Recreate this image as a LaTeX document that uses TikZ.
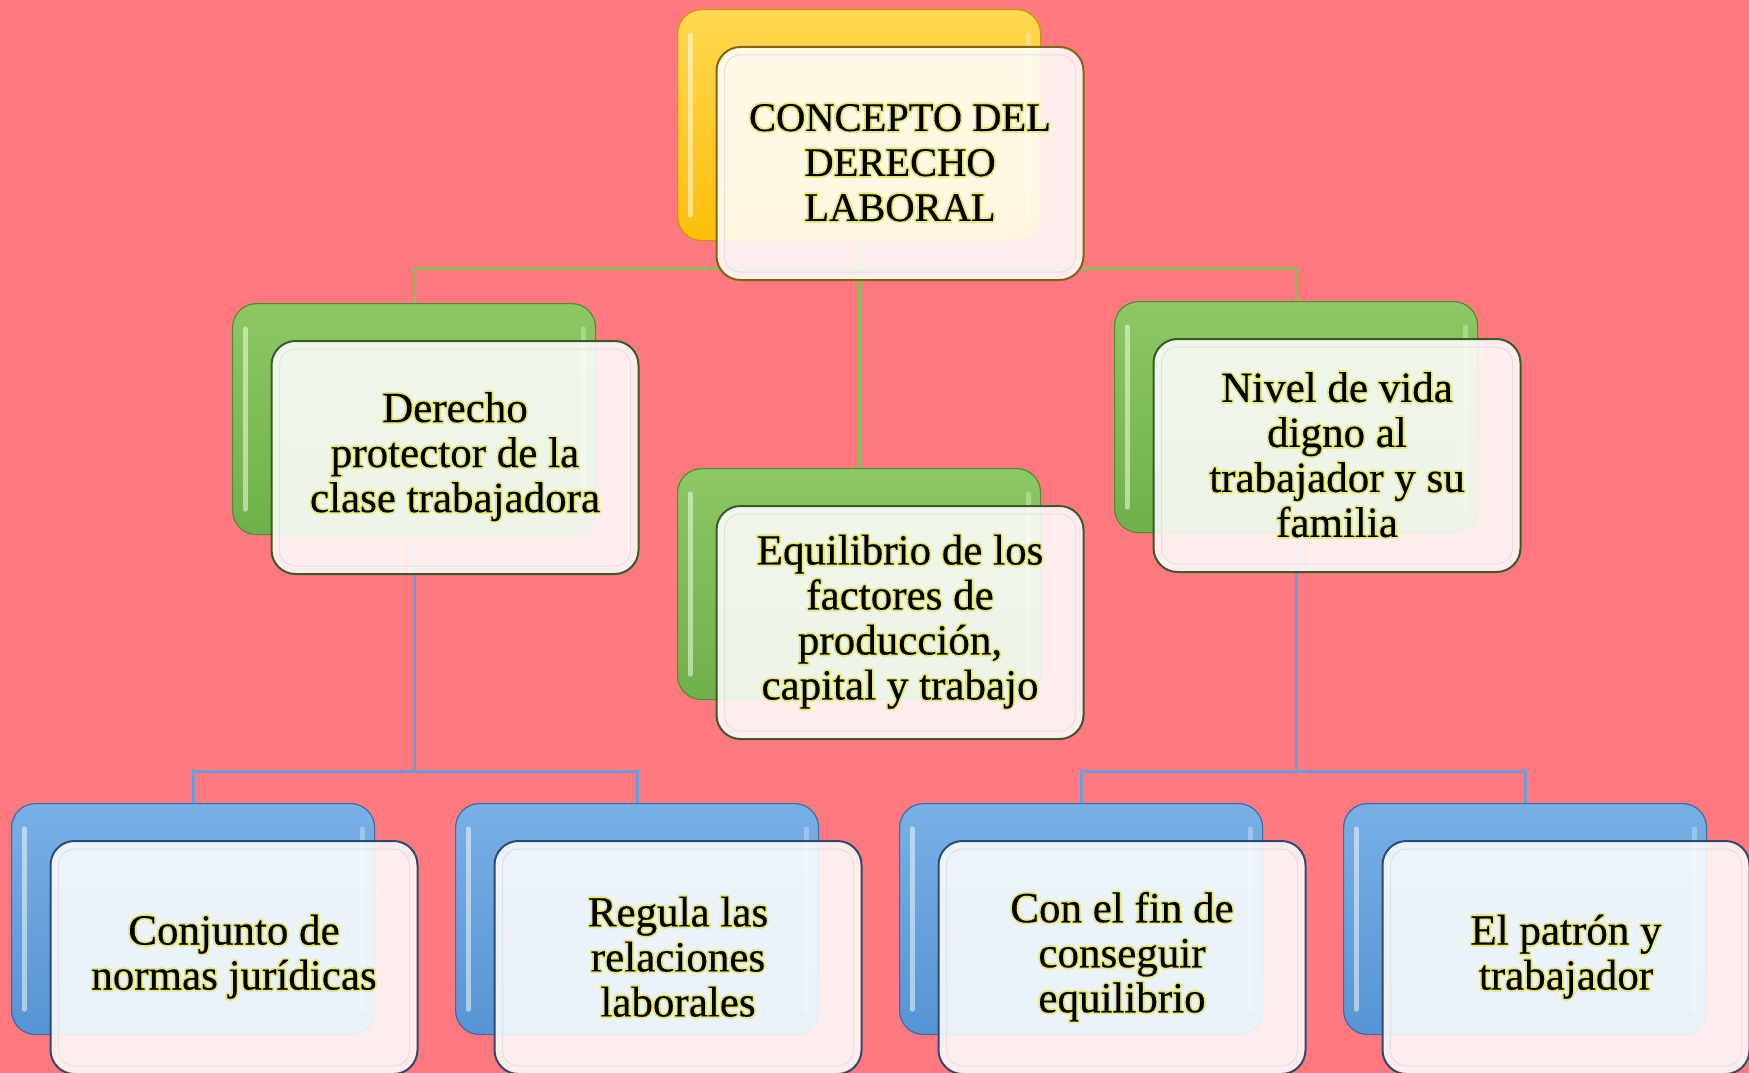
\documentclass[tikz,border=0pt]{standalone}
\usepackage{fontspec}
\setmainfont{Liberation Serif}
\newfontfamily\boxfont[FakeBold=0.35]{Liberation Serif}
\usepackage[copies]{contour}
\contourlength{1.6pt}
\usetikzlibrary{calc}
\definecolor{bgc}{RGB}{255,121,126}
\definecolor{glowc}{RGB}{232,232,120}
\definecolor{ytop}{RGB}{255,216,80}
\definecolor{ybot}{RGB}{252,190,10}
\definecolor{yedge}{RGB}{200,150,10}
\definecolor{yfront}{RGB}{130,100,20}
\definecolor{gtop}{RGB}{140,200,100}
\definecolor{gbot}{RGB}{112,176,74}
\definecolor{gedge}{RGB}{80,140,50}
\definecolor{gfront}{RGB}{55,90,40}
\definecolor{btop}{RGB}{120,176,230}
\definecolor{bbot}{RGB}{88,148,212}
\definecolor{bedge}{RGB}{55,110,170}
\definecolor{bfront}{RGB}{45,75,110}
\definecolor{gline}{RGB}{135,192,88}
\definecolor{bline}{RGB}{105,158,218}
\newcommand{\gl}[1]{\contour{glowc}{#1}}
\tikzset{
  backbox/.style={rounded corners=24pt, minimum width=363pt, minimum height=231pt,
    anchor=north west, inner sep=0pt, line width=1.2pt},
  yback/.style={backbox, top color=ytop, bottom color=ybot, draw=yedge},
  gback/.style={backbox, top color=gtop, bottom color=gbot, draw=gedge},
  bback/.style={backbox, top color=btop, bottom color=bbot, draw=bedge},
  frontbox/.style={rounded corners=24pt, minimum width=367pt, minimum height=233pt,
    anchor=north west, fill=white, fill opacity=0.87, text opacity=1, line width=2pt,
    align=center, inner sep=0pt, font=\boxfont\fontsize{43}{45}\selectfont},
  yfrontbox/.style={frontbox, draw=yfront, font=\boxfont\fontsize{40.5}{45}\selectfont},
  gfrontbox/.style={frontbox, draw=gfront},
  bfrontbox/.style={frontbox, draw=bfront},
  stripe/.style={white, opacity=0.5, line width=5pt, line cap=round},
  inner/.style={black!12, line width=1pt, rounded corners=16pt},
  gconn/.style={gline, line width=3pt},
  bconn/.style={bline, line width=3pt},
}
\newcommand{\backstripes}[1]{%
  \draw[stripe] ($(#1.north west)+(13,26)$) -- ($(#1.south west)+(13,-26)$);
  \draw[stripe, opacity=0.3] ($(#1.north east)+(-13,26)$) -- ($(#1.south east)+(-13,-26)$);
}
\newcommand{\frontnode}[4]{%
  \node[#2] (#1) at ($(#3.north west)+(38.5,37)$) {#4};
  \draw[inner] ($(#1.north west)+(9,9)$) rectangle ($(#1.south east)+(-9,-9)$);
}
\begin{document}
\begin{tikzpicture}[x=1pt,y=-1pt]
\useasboundingbox (0,0) rectangle (1749,1073);
\clip (0,0) rectangle (1749,1073);
\fill[bgc] (0,0) rectangle (1749,1073);
% back boxes
\node[yback] (topB) at (677,9) {};
\node[gback] (leftB) at (232,303) {};
\node[gback] (midB) at (677,468) {};
\node[gback] (rightB) at (1114,301) {};
\node[bback] (b1B) at (11,803) {};
\node[bback] (b2B) at (455,803) {};
\node[bback] (b3B) at (899,803) {};
\node[bback] (b4B) at (1343,803) {};
\foreach \n in {topB,leftB,midB,rightB,b1B,b2B,b3B,b4B}{\backstripes{\n}}
% connectors
\coordinate (gj) at (858,268);
\coordinate (bj) at (414,771);
\draw[gconn] (topB.south) -- (midB.north);
\draw[gconn] (leftB.north) |- (gj) -| (rightB.north);
\draw[bconn] (leftB.south) -- (leftB.south |- bj);
\draw[bconn] (b1B.north) |- (bj) -| (b2B.north);
\draw[bconn] (rightB.south) -- (rightB.south |- bj);
\draw[bconn] (b3B.north) |- (rightB.south |- bj) -| (b4B.north);
% front boxes
\frontnode{topF}{yfrontbox}{topB}{\gl{CONCEPTO DEL}\\\gl{DERECHO}\\\gl{LABORAL}}
\frontnode{leftF}{gfrontbox}{leftB}{\gl{Derecho}\\\gl{protector de la}\\\gl{clase trabajadora}}
\frontnode{midF}{gfrontbox}{midB}{\gl{Equilibrio de los}\\\gl{factores de}\\\gl{producción,}\\\gl{capital y trabajo}}
\frontnode{rightF}{gfrontbox}{rightB}{\gl{Nivel de vida}\\\gl{digno al}\\\gl{trabajador y su}\\\gl{familia}}
\frontnode{b1F}{bfrontbox}{b1B}{\gl{Conjunto de}\\\gl{normas jurídicas}}
\frontnode{b2F}{bfrontbox}{b2B}{\gl{Regula las}\\\gl{relaciones}\\\gl{laborales}}
\frontnode{b3F}{bfrontbox}{b3B}{\gl{Con el fin de}\\\gl{conseguir}\\\gl{equilibrio}}
\frontnode{b4F}{bfrontbox}{b4B}{\gl{El patrón y}\\\gl{trabajador}}
\end{tikzpicture}
\end{document}
